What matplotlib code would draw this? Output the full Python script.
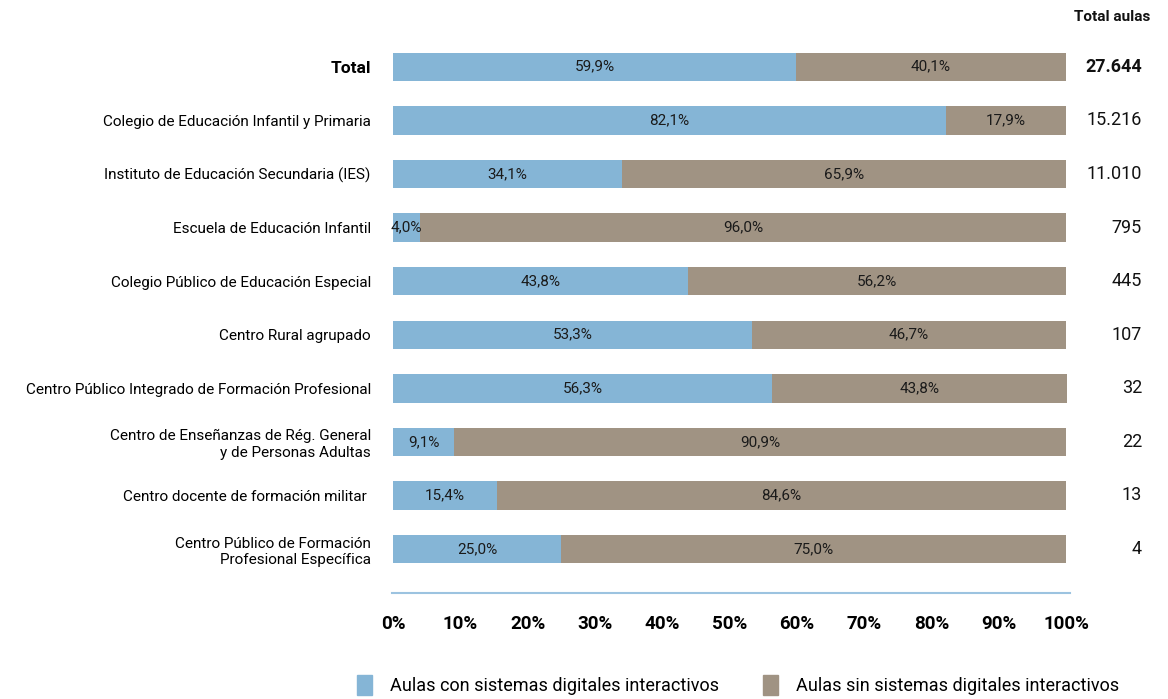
import matplotlib.pyplot as plt
from matplotlib.patches import Patch

plt.rcParams['font.family'] = ['Liberation Sans Narrow', 'Roboto', 'DejaVu Sans']

categories = [
    'Total',
    'Colegio de Educación Infantil y Primaria',
    'Instituto de Educación Secundaria (IES)',
    'Escuela de Educación Infantil',
    'Colegio Público de Educación Especial',
    'Centro Rural agrupado',
    'Centro Público Integrado de Formación Profesional',
    'Centro de Enseñanzas de Rég. General\ny de Personas Adultas',
    'Centro docente de formación militar ',
    'Centro Público de Formación\nProfesional Específica',
]
con_sistemas = [59.9, 82.1, 34.1, 4.0, 43.8, 53.3, 56.3, 9.1, 15.4, 25.0]
sin_sistemas = [40.1, 17.9, 65.9, 96.0, 56.2, 46.7, 43.8, 90.9, 84.6, 75.0]
total_aulas = ['27.644', '15.216', '11.010', '795', '445', '107', '32', '22', '13', '4']

blue = '#85b5d6'
brown = '#a09383'

fig = plt.figure(figsize=(11.68, 6.99), dpi=100)
ax = fig.add_axes([0.3353, 0.1516, 0.5808, 0.7912])

y = list(range(len(categories)))
ax.barh(y, con_sistemas, height=0.53, color=blue)
ax.barh(y, sin_sistemas, left=con_sistemas, height=0.53, color=brown)

def pct(v):
    return f'{v:.1f}%'.replace('.', ',')

for i in y:
    ax.text(con_sistemas[i] / 2, i, pct(con_sistemas[i]), ha='center', va='center',
            fontsize=11, color='#1a1a1a')
    ax.text(con_sistemas[i] + sin_sistemas[i] / 2, i, pct(sin_sistemas[i]),
            ha='center', va='center', fontsize=11, color='#1a1a1a')
    ax.text(111.3, i, total_aulas[i], ha='right', va='center', fontsize=13,
            fontweight='bold' if i == 0 else 'normal', color='#111111')

ax.text(106.9, -0.92, 'Total aulas', ha='center', va='center', fontsize=11,
        fontweight='bold', color='#111111')

ax.set_ylim(9.82, -0.5)
ax.set_xlim(-0.2, 100.6)
ax.set_yticks(y)
ax.set_yticklabels(categories, fontsize=11)
ax.get_yticklabels()[0].set_fontweight('bold')
ax.get_yticklabels()[0].set_fontsize(12.5)
ax.set_xticks(range(0, 101, 10))
ax.set_xticklabels([f'{v}%' for v in range(0, 101, 10)], fontsize=13.5,
                   fontweight='bold')
ax.tick_params(axis='y', length=0, pad=15)
ax.tick_params(axis='x', length=0, pad=16)
for s in ['top', 'right', 'left']:
    ax.spines[s].set_visible(False)
ax.spines['bottom'].set_color('#9cc3e0')
ax.spines['bottom'].set_linewidth(1.5)

handles = [Patch(color=blue, label='Aulas con sistemas digitales interactivos'),
           Patch(color=brown, label='Aulas sin sistemas digitales interactivos')]
fig.legend(handles=handles, loc='center', bbox_to_anchor=(0.632, 0.02), ncol=2,
           frameon=False, fontsize=13, handlelength=0.85, handleheight=1.3,
           columnspacing=2.4, handletextpad=1.0)

fig.savefig('out.png', dpi=100)
